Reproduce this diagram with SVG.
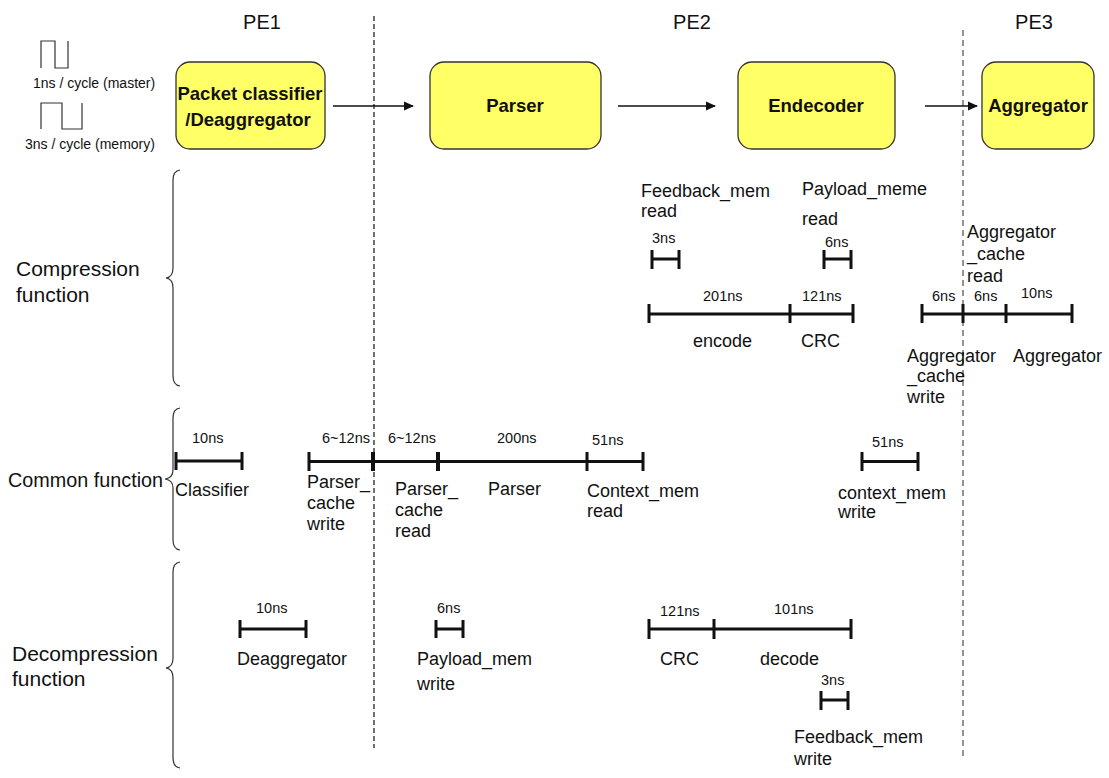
<svg xmlns="http://www.w3.org/2000/svg" width="1109" height="778" viewBox="0 0 1109 778">
  <style>
    text { font-family: "Liberation Sans", Arial, sans-serif; fill: #111; }
    .pe { font-size: 20px; }
    .clk { font-size: 14px; }
    .sec { font-size: 21px; }
    .lbl { font-size: 18px; }
    .ns { font-size: 14.5px; }
    .box { fill: #ffff66; stroke: #333; stroke-width: 1.3; }
    .btxt { font-size: 18.5px; font-weight: bold; text-anchor: middle; }
    .bar { stroke: #111; stroke-width: 3; fill: none; }
    .tick { stroke: #111; stroke-width: 3; }
    .brace { stroke: #333; stroke-width: 1.2; fill: none; }
    .wave { stroke: #333; stroke-width: 1.2; fill: none; }
    .divider { stroke: #111; stroke-width: 1.2; stroke-dasharray: 5 3; }
    .divider2 { stroke: #666; stroke-width: 1.4; stroke-dasharray: 6 4; }
    .conn { stroke: #111; stroke-width: 1.5; fill: none; }
  </style>
  <defs>
    <marker id="arrow" markerWidth="10" markerHeight="10" refX="9" refY="5" orient="auto" markerUnits="userSpaceOnUse">
      <path d="M0,0.5 L10,5 L0,9.5 z" fill="#111"/>
    </marker>
  </defs>

  <rect width="1109" height="778" fill="#ffffff"/>

  <!-- processing element dividers -->
  <line class="divider" x1="374" y1="16" x2="374" y2="748"/>
  <line class="divider2" x1="963" y1="30" x2="963" y2="758"/>

  <!-- processing element headings -->
  <text class="pe" x="262" y="29" text-anchor="middle">PE1</text>
  <text class="pe" x="692" y="29" text-anchor="middle">PE2</text>
  <text class="pe" x="1034" y="29" text-anchor="middle">PE3</text>

  <!-- clock legend -->
  <g id="clock-legend">
    <path class="wave" d="M41,68 V41 H55 V68 H68 V41"/>
    <text class="clk" x="33" y="88">1ns / cycle (master)</text>
    <path class="wave" d="M41,129 V103 H62 V129 H82 V103"/>
    <text class="clk" x="25" y="149">3ns / cycle (memory)</text>
  </g>

  <!-- pipeline stages -->
  <g id="node-classifier">
    <rect class="box" x="176" y="62" width="149" height="87" rx="14"/>
    <text class="btxt" x="250" y="100">Packet classifier</text>
    <text class="btxt" x="248" y="126">/Deaggregator</text>
  </g>
  <g id="node-parser">
    <rect class="box" x="430" y="62" width="171" height="87" rx="14"/>
    <text class="btxt" x="515" y="112">Parser</text>
  </g>
  <g id="node-endecoder">
    <rect class="box" x="738" y="62" width="157" height="87" rx="14"/>
    <text class="btxt" x="816" y="112">Endecoder</text>
  </g>
  <g id="node-aggregator">
    <rect class="box" x="982" y="62" width="112" height="87" rx="14"/>
    <text class="btxt" x="1038" y="112">Aggregator</text>
  </g>

  <g id="connectors">
    <line class="conn" x1="333" y1="106" x2="413" y2="106" marker-end="url(#arrow)"/>
    <line class="conn" x1="618" y1="106" x2="715" y2="106" marker-end="url(#arrow)"/>
    <line class="conn" x1="925" y1="106" x2="977" y2="106" marker-end="url(#arrow)"/>
  </g>

  <!-- section braces and titles -->
  <g id="section-compression">
    <path class="brace" d="M180,170 Q173,171 173,180 V268 Q173,277 166,278 Q173,279 173,288 V376 Q173,385 180,386"/>
    <text class="sec" x="16" y="276">Compression</text>
    <text class="sec" x="16" y="302">function</text>
  </g>
  <g id="section-common">
    <path class="brace" d="M180,408 Q173,409 173,418 V470 Q173,478 165,479 Q173,480 173,488 V540 Q173,549 180,550"/>
    <text class="sec" x="8" y="487" style="font-size:19.8px">Common function</text>
  </g>
  <g id="section-decompression">
    <path class="brace" d="M180,562 Q173,563 173,572 V658 Q173,667 166,668 Q173,669 173,678 V758 Q173,767 180,768"/>
    <text class="sec" x="12" y="661">Decompression</text>
    <text class="sec" x="12" y="686">function</text>
  </g>

  <!-- compression timing -->
  <g id="comp-feedback-read">
    <text class="lbl" x="641" y="197">Feedback_mem</text>
    <text class="lbl" x="641" y="217">read</text>
    <text class="ns" x="652" y="243">3ns</text>
    <path class="bar" d="M652,259 H679"/>
    <path class="tick" d="M652,250 V269 M679,250 V269"/>
  </g>
  <g id="comp-payload-read">
    <text class="lbl" x="802" y="195">Payload_meme</text>
    <text class="lbl" x="802" y="225">read</text>
    <text class="ns" x="825" y="247">6ns</text>
    <path class="bar" d="M824,259 H851"/>
    <path class="tick" d="M824,250 V269 M851,250 V269"/>
  </g>
  <g id="comp-encode-crc">
    <text class="ns" x="703" y="301">201ns</text>
    <text class="ns" x="802" y="301">121ns</text>
    <path class="bar" d="M649,314 H853"/>
    <path class="tick" d="M649,304 V323 M790,304 V323 M853,304 V323"/>
    <text class="lbl" x="693" y="347">encode</text>
    <text class="lbl" x="801" y="347">CRC</text>
  </g>
  <g id="comp-aggregator">
    <text class="lbl" x="967" y="238">Aggregator</text>
    <text class="lbl" x="967" y="260">_cache</text>
    <text class="lbl" x="967" y="282">read</text>
    <text class="ns" x="932" y="301">6ns</text>
    <text class="ns" x="974" y="301">6ns</text>
    <text class="ns" x="1021" y="298">10ns</text>
    <path class="bar" d="M922,314 H1072"/>
    <path class="tick" d="M922,304 V323 M963,304 V323 M1006,304 V323 M1072,304 V323"/>
    <text class="lbl" x="907" y="362">Aggregator</text>
    <text class="lbl" x="907" y="382">_cache</text>
    <text class="lbl" x="907" y="403">write</text>
    <text class="lbl" x="1013" y="362">Aggregator</text>
  </g>

  <!-- common timing -->
  <g id="common-classifier">
    <text class="ns" x="192" y="443">10ns</text>
    <path class="bar" d="M176,461 H242"/>
    <path class="tick" d="M176,452 V470 M242,452 V470"/>
    <text class="lbl" x="175" y="496">Classifier</text>
  </g>
  <g id="common-parser">
    <text class="ns" x="322" y="443">6~12ns</text>
    <text class="ns" x="388" y="443">6~12ns</text>
    <text class="ns" x="497" y="443">200ns</text>
    <text class="ns" x="592" y="445">51ns</text>
    <path class="bar" d="M309,461.5 H643"/>
    <path class="tick" d="M309,452 V471 M587,452 V471 M643,452 V471"/>
    <path class="tick" style="stroke-width:4" d="M373,452 V471 M438,452 V471"/>
    <text class="lbl" x="307" y="488">Parser_</text>
    <text class="lbl" x="307" y="509">cache</text>
    <text class="lbl" x="307" y="530">write</text>
    <text class="lbl" x="395" y="495">Parser_</text>
    <text class="lbl" x="395" y="516">cache</text>
    <text class="lbl" x="395" y="537">read</text>
    <text class="lbl" x="488" y="495">Parser</text>
    <text class="lbl" x="587" y="497">Context_mem</text>
    <text class="lbl" x="587" y="517">read</text>
  </g>
  <g id="common-context-write">
    <text class="ns" x="872" y="447">51ns</text>
    <path class="bar" d="M862,461.5 H918"/>
    <path class="tick" d="M862,452 V471 M918,452 V471"/>
    <text class="lbl" x="838" y="499">context_mem</text>
    <text class="lbl" x="838" y="518">write</text>
  </g>

  <!-- decompression timing -->
  <g id="decomp-deaggregator">
    <text class="ns" x="256" y="613">10ns</text>
    <path class="bar" d="M240,629 H306"/>
    <path class="tick" d="M240,620 V638 M306,620 V638"/>
    <text class="lbl" x="237" y="665">Deaggregator</text>
  </g>
  <g id="decomp-payload-write">
    <text class="ns" x="437" y="613">6ns</text>
    <path class="bar" d="M436,629 H463"/>
    <path class="tick" d="M436,620 V638 M463,620 V638"/>
    <text class="lbl" x="417" y="665">Payload_mem</text>
    <text class="lbl" x="417" y="690">write</text>
  </g>
  <g id="decomp-crc-decode">
    <text class="ns" x="660" y="616">121ns</text>
    <text class="ns" x="774" y="614">101ns</text>
    <path class="bar" d="M649,629 H851"/>
    <path class="tick" d="M649,619 V639 M714,619 V639 M851,619 V639"/>
    <text class="lbl" x="660" y="665">CRC</text>
    <text class="lbl" x="760" y="665">decode</text>
  </g>
  <g id="decomp-feedback-write">
    <text class="ns" x="821" y="685">3ns</text>
    <path class="bar" d="M821,700 H848"/>
    <path class="tick" d="M821,691 V710 M848,691 V710"/>
    <text class="lbl" x="794" y="743">Feedback_mem</text>
    <text class="lbl" x="794" y="765">write</text>
  </g>
</svg>
